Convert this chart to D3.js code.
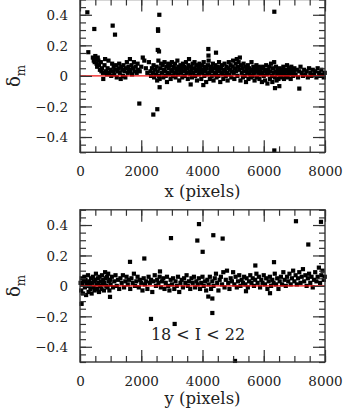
<!DOCTYPE html>
<html>
<head>
<meta charset="utf-8">
<script src="https://cdn.jsdelivr.net/npm/d3@7"></script>
<style>
  body { margin: 0; background: #fff; }
  svg { display: block; }
  .tick text { font-family: "DejaVu Serif", serif; font-size: 13.5px; fill: #222; }
  .domain { display: none; }
  .tick line { stroke: #333; stroke-width: 1.2; }
</style>
</head>
<body>
<svg width="347" height="412"></svg>
<script>
// values: [pixel position, delta_m]
var topOutliers = [
  [240, 0.416], [272, 0.155], [467, 0.307], [1067, 0.329], [1143, 0.27],
  [1937, -0.181], [2394, -0.253], [2524, -0.218], [2590, 0.40], [2547, 0.305],
  [2550, 0.295], [2540, 0.17], [2580, 0.16], [2600, -0.074], [4190, 0.176],
  [4195, 0.133], [4441, 0.152], [6345, 0.42], [6345, -0.488], [6367, -0.08],
  [6508, -0.067], [7161, -0.083], [3614, -0.056], [4027, -0.06]
];

var topBand = [
  [420,0.12],[450,0.10],[480,0.09],[500,0.13],[520,0.11],[540,0.08],[560,0.06],[580,0.12],[600,0.10],[620,0.07],
  [650,0.04],[680,0.09],[700,0.03],[720,0.05],[750,0.02],[760,-0.02],[800,0.07],[820,0.11],[850,0.03],[880,0.01],
  [900,0.05],[930,0.10],[960,0.02],[1000,0.04],[1020,0.00],[1050,0.08],[1080,0.03],[1100,0.06],[1120,0.01],[1150,0.04],
  [1180,0.07],[1200,-0.01],[1230,0.03],[1260,0.05],[1280,0.08],[1300,0.02],[1330,-0.02],[1350,0.06],[1380,0.04],[1400,0.00],
  [1420,0.07],[1450,0.03],[1480,-0.01],[1500,0.05],[1530,0.09],[1560,0.02],[1580,0.06],[1600,0.04],[1630,0.11],[1650,0.03],
  [1680,0.07],[1700,0.01],[1730,0.05],[1760,0.09],[1790,0.03],[1820,0.06],[1850,0.02],[1880,0.08],[1900,0.04],[1950,0.03],
  [2000,0.06],[2050,0.12],[2100,0.10],[2150,0.05],[2200,0.02],[2250,0.09],[2300,0.03],[2320,0.00],[2350,0.05],[2380,0.02],
  [2400,0.07],[2420,-0.01],[2450,0.04],[2480,0.01],[2500,0.06],[2520,-0.03],[2540,0.03],[2560,0.10],[2580,0.00],[2600,-0.02],
  [2620,0.05],[2650,0.08],[2680,0.02],[2700,0.07],[2720,-0.01],[2740,0.04],[2760,0.09],[2780,0.03],[2800,0.00],[2820,0.06],
  [2840,-0.04],[2860,0.02],[2880,0.08],[2900,0.05],[2920,0.01],[2940,0.07],[2960,-0.02],[2980,0.03],[3000,0.09],[3020,0.04],
  [3040,0.00],[3060,0.06],[3080,0.02],[3100,0.08],[3120,-0.01],[3140,0.05],[3160,0.03],[3180,0.10],[3200,0.01],[3220,0.06],
  [3240,-0.03],[3260,0.04],[3280,0.07],[3300,0.02],[3320,0.05],[3340,-0.01],[3360,0.08],[3380,0.03],[3400,0.06],[3420,0.00],
  [3440,0.04],[3460,0.09],[3480,0.02],[3500,0.05],[3520,-0.02],[3540,0.07],[3560,0.11],[3580,0.03],[3600,0.01],[3620,0.06],
  [3640,0.04],[3660,-0.01],[3680,0.08],[3700,0.02],[3720,0.05],[3740,0.09],[3760,0.00],[3780,0.03],[3800,0.07],[3820,-0.03],
  [3840,0.04],[3860,0.06],[3880,0.01],[3900,0.08],[3920,0.03],[3940,0.05],[3960,-0.02],[3980,0.07],[4000,0.02],[4020,0.04],
  [4040,0.09],[4060,0.00],[4080,0.06],[4100,0.03],[4120,-0.04],[4140,0.05],[4160,0.01],[4180,0.07],[4200,0.10],[4220,0.02],
  [4240,-0.02],[4260,0.04],[4280,0.06],[4300,0.00],[4320,0.03],[4340,0.08],[4360,-0.03],[4380,0.05],[4400,0.01],[4420,0.07],
  [4440,0.02],[4460,-0.01],[4480,0.04],[4500,0.06],[4520,0.00],[4540,0.09],[4560,0.03],[4580,-0.04],[4600,0.05],[4620,0.02],
  [4640,0.07],[4660,0.01],[4680,-0.02],[4700,0.04],[4720,0.08],[4740,0.03],[4760,0.00],[4780,0.06],[4800,0.02],[4820,-0.03],
  [4840,0.05],[4860,0.09],[4880,0.01],[4900,0.04],[4920,0.07],[4940,-0.01],[4960,0.03],[4980,0.06],[5000,0.10],[5020,0.02],
  [5040,-0.02],[5060,0.05],[5080,0.08],[5100,0.03],[5120,0.11],[5140,0.00],[5160,0.06],[5180,0.09],[5200,0.04],[5220,0.12],
  [5240,-0.03],[5260,0.07],[5280,0.02],[5300,0.05],[5320,-0.01],[5340,0.08],[5360,0.03],[5380,0.00],[5400,0.06],[5420,-0.04],
  [5440,0.04],[5460,0.02],[5480,0.07],[5500,-0.02],[5520,0.05],[5540,0.01],[5560,0.03],[5580,-0.01],[5600,0.09],[5620,0.04],
  [5640,0.00],[5660,0.06],[5680,0.02],[5700,-0.03],[5720,0.05],[5740,0.03],[5760,0.07],[5780,-0.01],[5800,0.04],[5820,0.02],
  [5840,0.06],[5860,-0.02],[5880,0.03],[5900,0.01],[5920,0.05],[5940,-0.04],[5960,0.02],[5980,0.06],[6000,0.00],[6020,0.04],
  [6040,-0.03],[6060,0.03],[6080,0.07],[6100,0.01],[6120,-0.05],[6140,0.04],[6160,0.02],[6180,0.06],[6200,-0.02],[6220,0.03],
  [6240,0.08],[6260,0.00],[6280,-0.04],[6300,0.05],[6320,0.02],[6340,0.09],[6360,-0.01],[6380,0.03],[6400,0.06],[6420,-0.03],
  [6440,0.01],[6460,0.04],[6480,-0.02],[6500,0.02],[6520,0.05],[6540,0.00],[6560,0.03],[6580,-0.01],[6600,0.04],[6620,0.01],
  [6640,0.06],[6660,-0.02],[6680,0.02],[6700,0.04],[6720,0.00],[6740,0.03],[6760,0.07],[6780,-0.01],[6800,0.02],[6820,0.05],
  [6840,0.01],[6860,0.03],[6880,-0.02],[6900,0.06],[6920,0.02],[6940,0.04],[6960,0.00],[6980,0.03],[7000,0.05],[7040,0.01],
  [7080,0.04],[7120,-0.01],[7160,0.03],[7200,0.06],[7240,0.02],[7280,0.00],[7320,0.04],[7360,0.01],[7400,0.03],[7440,-0.01],
  [7480,0.05],[7520,0.02],[7560,0.00],[7600,0.04],[7640,0.01],[7680,0.03],[7720,-0.01],[7760,0.05],[7800,0.02],[7840,0.00],
  [7880,0.04],[7920,0.01],[7960,-0.01],[7990,0.02]
];

var bottomOutliers = [
  [52, -0.118], [980, -0.072], [1633, 0.158], [2100, 0.18], [2318, -0.217],
  [2971, 0.314], [3091, -0.25], [3831, 0.298], [3885, 0.406], [4005, 0.224],
  [4190, -0.07], [4321, -0.083], [4321, -0.178], [4353, 0.333], [4658, 0.311],
  [5061, -0.493], [5725, 0.134], [6335, 0.156], [6204, -0.048], [7052, 0.425],
  [7455, 0.272], [7869, 0.421], [5420, -0.035], [2612, 0.095]
];

var bottomBand = [
  [20,0.02],[40,-0.03],[60,0.05],[80,0.01],[100,-0.05],[120,0.03],[140,0.06],[160,-0.01],[180,0.04],[200,-0.06],
  [220,0.02],[240,0.00],[260,0.07],[280,-0.04],[300,0.03],[320,0.01],[340,-0.02],[360,0.05],[380,-0.05],[400,0.02],
  [420,0.06],[440,-0.01],[460,0.03],[480,-0.03],[500,0.04],[520,0.08],[540,0.01],[560,-0.02],[580,0.05],[600,0.02],
  [620,-0.04],[640,0.06],[660,0.00],[680,0.03],[700,-0.02],[720,0.07],[740,0.01],[760,0.04],[780,-0.03],[800,0.02],
  [820,0.09],[840,0.05],[860,0.00],[880,0.06],[900,-0.01],[920,0.08],[940,0.03],[960,-0.03],[980,0.04],[1000,0.01],
  [1040,0.06],[1080,-0.01],[1120,0.03],[1160,0.07],[1200,0.00],[1240,0.04],[1280,-0.02],[1320,0.05],[1360,0.02],[1400,0.07],
  [1440,-0.01],[1480,0.03],[1520,0.06],[1560,0.01],[1600,0.04],[1640,-0.02],[1680,0.05],[1720,0.02],[1760,0.08],[1800,0.00],
  [1840,0.03],[1880,0.06],[1920,-0.01],[1960,0.04],[2000,0.02],[2040,-0.03],[2080,0.05],[2120,0.01],[2160,0.03],[2200,-0.02],
  [2240,0.06],[2280,0.02],[2320,0.04],[2360,-0.04],[2400,0.03],[2440,0.07],[2480,0.00],[2520,0.04],[2560,0.02],[2600,0.06],
  [2640,-0.01],[2680,0.03],[2720,0.05],[2760,-0.02],[2800,0.02],[2840,0.06],[2880,0.00],[2920,-0.03],[2960,0.04],[3000,0.01],
  [3040,0.05],[3080,-0.02],[3120,0.03],[3160,0.00],[3200,0.06],[3240,-0.04],[3280,0.02],[3320,0.04],[3360,-0.01],[3400,0.05],
  [3440,0.02],[3480,0.07],[3520,0.00],[3560,0.03],[3600,-0.02],[3640,0.05],[3680,0.02],[3720,0.06],[3760,-0.01],[3800,0.03],
  [3840,0.01],[3880,0.05],[3920,-0.02],[3960,0.02],[4000,0.06],[4040,0.00],[4080,0.03],[4120,-0.03],[4160,0.04],[4200,0.01],
  [4240,0.06],[4280,-0.02],[4320,0.03],[4360,0.00],[4400,0.05],[4440,0.08],[4480,0.02],[4520,-0.03],[4560,0.04],[4600,0.06],
  [4640,0.01],[4680,0.09],[4720,-0.01],[4760,0.04],[4800,0.10],[4840,0.02],[4880,-0.02],[4920,0.05],[4960,0.03],[5000,0.09],
  [5040,0.01],[5080,0.06],[5120,-0.01],[5160,0.03],[5200,0.07],[5240,0.00],[5280,0.04],[5320,0.02],[5360,0.06],[5400,0.01],
  [5440,0.05],[5480,-0.01],[5520,0.03],[5560,0.07],[5600,0.02],[5640,0.05],[5680,0.00],[5720,0.04],[5760,0.08],[5800,0.02],
  [5840,0.06],[5880,-0.01],[5920,0.04],[5960,0.02],[6000,0.07],[6040,0.01],[6080,0.05],[6120,-0.02],[6160,0.03],[6200,0.06],
  [6240,0.00],[6280,0.04],[6320,0.02],[6360,0.08],[6400,0.01],[6440,0.05],[6480,-0.02],[6520,0.03],[6560,0.06],[6600,0.01],
  [6640,0.09],[6680,0.04],[6720,0.00],[6760,0.06],[6800,0.03],[6840,0.08],[6880,0.01],[6920,0.05],[6960,0.10],[7000,0.03],
  [7040,0.07],[7080,0.01],[7120,0.05],[7160,0.09],[7200,0.02],[7240,0.06],[7280,0.11],[7320,0.03],[7360,0.07],[7400,0.00],
  [7440,0.05],[7480,0.08],[7520,0.02],[7560,0.06],[7600,-0.01],[7640,0.04],[7680,0.09],[7720,0.03],[7760,0.06],[7800,0.12],
  [7840,0.02],[7880,0.07],[7920,0.10],[7960,0.04],[7990,0.06]
];

var zeroLine = [[0, 0], [8000, 0]];
var xTicks = [0, 2000, 4000, 6000, 8000];
var yTicks = [-0.4, -0.2, 0, 0.2, 0.4];

var svg = d3.select("svg");
var left = 80, right = 325;

var x = d3.scaleLinear().domain([0, 8000]).range([left, right]);

var panels = [
  { top: -0.5, bottom: 152.3, points: topOutliers.concat(topBand), xlabel: "x (pixels)", tickY: 176, titleY: 197 },
  { top: 209.8, bottom: 362, points: bottomOutliers.concat(bottomBand), xlabel: "y (pixels)", tickY: 385.5, titleY: 404 , note: "18 < I < 22" }
];

var fmtY = function(d) { return d === 0 ? "0" : d3.format(".1f")(d); };

panels.forEach(function(p) {
  var y = d3.scaleLinear().domain([-0.5, 0.5]).range([p.bottom, p.top]);
  var g = svg.append("g");

  var s = 4.2;
  g.append("g").selectAll("rect").data(p.points).enter().append("rect")
      .attr("x", function(d) { return x(d[0]) - s / 2; })
      .attr("y", function(d) { return y(d[1]) - s / 2; })
      .attr("width", s).attr("height", s)
      .attr("fill", "#000");

  // red reference line, drawn over the points
  g.append("path")
      .datum(zeroLine)
      .attr("fill", "none")
      .attr("stroke", "#f01010")
      .attr("stroke-width", 1.3)
      .attr("d", d3.line().x(function(d) { return x(d[0]); }).y(function(d) { return y(d[1]); }));

  // minor ticks on all sides, inward
  g.append("g").attr("transform", "translate(0," + p.bottom + ")")
      .call(d3.axisBottom(x).tickValues(d3.range(0, 8001, 500)).tickSize(-6).tickFormat(""));
  g.append("g").attr("transform", "translate(0," + p.top + ")")
      .call(d3.axisTop(x).tickValues(d3.range(0, 8001, 500)).tickSize(-6).tickFormat(""));
  g.append("g").attr("transform", "translate(" + left + ",0)")
      .call(d3.axisLeft(y).tickValues(d3.range(-0.5, 0.501, 0.05)).tickSize(-6).tickFormat(""));
  g.append("g").attr("transform", "translate(" + right + ",0)")
      .call(d3.axisRight(y).tickValues(d3.range(-0.5, 0.501, 0.05)).tickSize(-6).tickFormat(""));

  // major ticks
  g.append("g").attr("transform", "translate(0," + p.top + ")")
      .call(d3.axisTop(x).tickValues(xTicks).tickSize(-12).tickFormat(""));
  g.append("g").attr("transform", "translate(" + right + ",0)")
      .call(d3.axisRight(y).tickValues(yTicks).tickSize(-12).tickFormat(""));
  var xa = g.append("g").attr("transform", "translate(0," + p.bottom + ")")
      .call(d3.axisBottom(x).tickValues(xTicks).tickSize(-12).tickFormat(d3.format("d")));
  xa.selectAll("text").attr("y", p.tickY - p.bottom).attr("dy", 0);
  var ya = g.append("g").attr("transform", "translate(" + left + ",0)")
      .call(d3.axisLeft(y).tickValues(yTicks).tickSize(-12).tickFormat(fmtY));
  ya.selectAll("text").attr("x", -12).attr("dy", "0.36em");

  // frame
  g.append("rect")
      .attr("x", left).attr("y", p.top)
      .attr("width", right - left).attr("height", p.bottom - p.top)
      .attr("fill", "none").attr("stroke", "#333").attr("stroke-width", 1.4);

  g.append("text")
      .attr("x", (left + right) / 2).attr("y", p.titleY)
      .attr("text-anchor", "middle")
      .style("font-family", "DejaVu Serif, serif").style("font-size", "16.5px")
      .style("fill", "#222")
      .text(p.xlabel);

  var cy = (p.top + p.bottom) / 2;
  var yl = g.append("text")
      .attr("transform", "translate(20," + cy + ") rotate(-90)")
      .attr("text-anchor", "middle")
      .style("font-family", "DejaVu Serif, serif").style("font-size", "18px")
      .style("fill", "#222");
  yl.append("tspan").text("δ");
  yl.append("tspan").attr("dy", 5).style("font-size", "12px").text("m");

  if (p.note) {
    g.append("text")
        .attr("x", 198).attr("y", 340)
        .attr("text-anchor", "middle")
        .style("font-family", "DejaVu Serif, serif").style("font-size", "16px")
        .style("fill", "#222")
        .text(p.note);
  }
});
</script>
</body>
</html>
